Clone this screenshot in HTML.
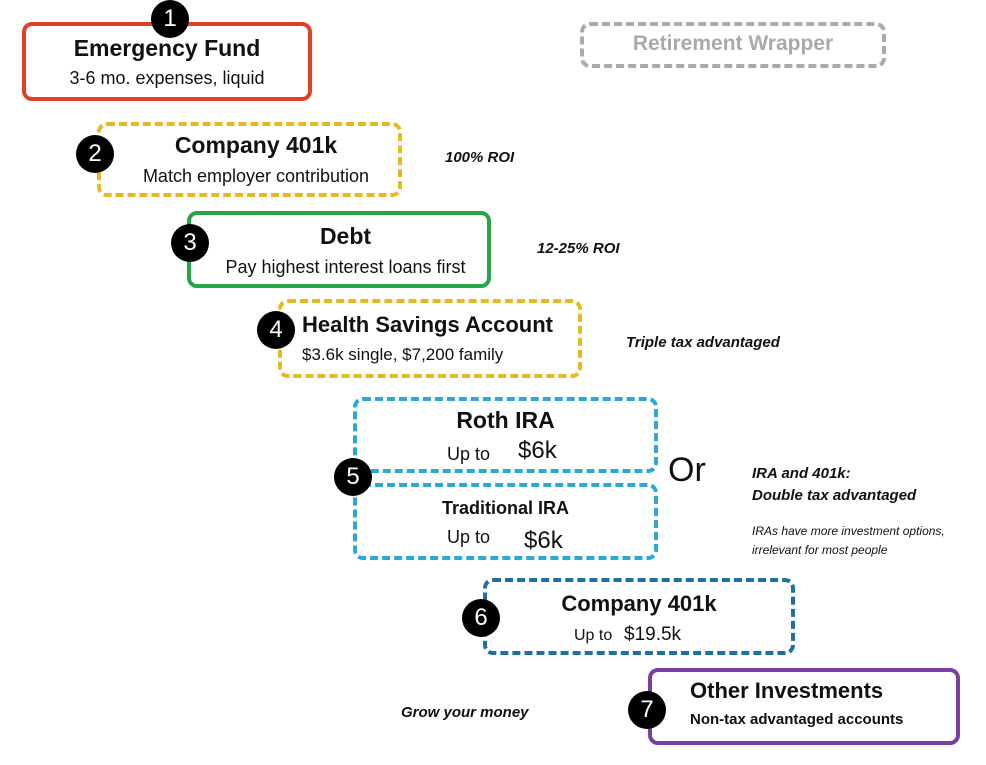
<!DOCTYPE html>
<html><head><meta charset="utf-8"><style>
body{margin:0;width:986px;height:765px;background:#fff;position:relative;overflow:hidden;font-family:"Liberation Sans",sans-serif;color:#111}
.b{position:absolute;box-sizing:border-box;border-radius:10px}
.t{position:absolute;white-space:nowrap}
.c{position:absolute;width:38px;height:38px;border-radius:50%;background:#000;color:#fff;font-size:24px;text-align:center;line-height:38px}
.n{font-style:italic;font-weight:bold;font-size:15px}
</style></head><body>
<div class="b" style="left:22px;top:22px;width:290px;height:79px;border:4px solid #e0402a"></div>
<div class="t" style="left:22px;width:290px;text-align:center;top:35px;font-size:23px;font-weight:bold">Emergency Fund</div>
<div class="t" style="left:22px;width:290px;text-align:center;top:68px;font-size:18px">3-6 mo. expenses, liquid</div>
<div class="c" style="left:151px;top:0px">1</div>

<div class="b" style="left:580px;top:22px;width:306px;height:46px;border:4px dashed #aaa"></div>
<div class="t" style="left:580px;width:306px;text-align:center;top:32px;font-size:21px;font-weight:bold;color:#a9a9a9">Retirement Wrapper</div>

<div class="b" style="left:97px;top:122px;width:305px;height:75px;border:4px dashed #e8b820"></div>
<div class="t" style="left:110px;width:292px;text-align:center;top:132px;font-size:23px;font-weight:bold">Company 401k</div>
<div class="t" style="left:110px;width:292px;text-align:center;top:166px;font-size:18px">Match employer contribution</div>
<div class="c" style="left:76px;top:135px">2</div>
<div class="t n" style="left:445px;top:149px">100% ROI</div>

<div class="b" style="left:187px;top:211px;width:304px;height:77px;border:4px solid #25a54a"></div>
<div class="t" style="left:200px;width:291px;text-align:center;top:223px;font-size:23px;font-weight:bold">Debt</div>
<div class="t" style="left:200px;width:291px;text-align:center;top:257px;font-size:18px">Pay highest interest loans first</div>
<div class="c" style="left:171px;top:224px">3</div>
<div class="t n" style="left:537px;top:240px">12-25% ROI</div>

<div class="b" style="left:278px;top:299px;width:304px;height:79px;border:4px dashed #e8b820"></div>
<div class="t" style="left:302px;top:312px;font-size:22px;font-weight:bold">Health Savings Account</div>
<div class="t" style="left:302px;top:345px;font-size:17px">$3.6k single, $7,200 family</div>
<div class="c" style="left:257px;top:311px">4</div>
<div class="t n" style="left:626px;top:334px">Triple tax advantaged</div>

<div class="b" style="left:353px;top:397px;width:305px;height:76px;border:4px dashed #2aa8d6"></div>
<div class="b" style="left:353px;top:483px;width:305px;height:77px;border:4px dashed #2aa8d6"></div>
<div class="t" style="left:353px;width:305px;text-align:center;top:407px;font-size:23px;font-weight:bold">Roth IRA</div>
<div class="t" style="left:447px;top:444px;font-size:18px">Up to</div>
<div class="t" style="left:518px;top:437px;font-size:24px">$6k</div>
<div class="t" style="left:353px;width:305px;text-align:center;top:498px;font-size:18px;font-weight:bold">Traditional IRA</div>
<div class="t" style="left:447px;top:527px;font-size:18px">Up to</div>
<div class="t" style="left:524px;top:527px;font-size:24px">$6k</div>
<div class="c" style="left:334px;top:458px">5</div>
<div class="t" style="left:668px;top:451px;font-size:34px">Or</div>
<div class="t n" style="left:752px;top:465px;font-size:15px">IRA and 401k:</div>
<div class="t n" style="left:752px;top:487px;font-size:15px">Double tax advantaged</div>
<div class="t" style="left:752px;top:524px;font-size:12px;font-style:italic">IRAs have more investment options,</div>
<div class="t" style="left:752px;top:543px;font-size:12px;font-style:italic">irrelevant for most people</div>

<div class="b" style="left:483px;top:578px;width:312px;height:77px;border:4px dashed #1f6fa0"></div>
<div class="t" style="left:483px;width:312px;text-align:center;top:591px;font-size:22px;font-weight:bold">Company 401k</div>
<div class="t" style="left:574px;top:627px;font-size:16px">Up to</div>
<div class="t" style="left:624px;top:624px;font-size:19px">$19.5k</div>
<div class="c" style="left:462px;top:599px">6</div>

<div class="b" style="left:648px;top:668px;width:312px;height:77px;border:4px solid #7b3fa0"></div>
<div class="t" style="left:690px;top:678px;font-size:22px;font-weight:bold">Other Investments</div>
<div class="t" style="left:690px;top:711px;font-size:15px;font-weight:bold">Non-tax advantaged accounts</div>
<div class="c" style="left:628px;top:691px">7</div>
<div class="t n" style="left:401px;top:704px;font-size:15px">Grow your money</div>
</body></html>
